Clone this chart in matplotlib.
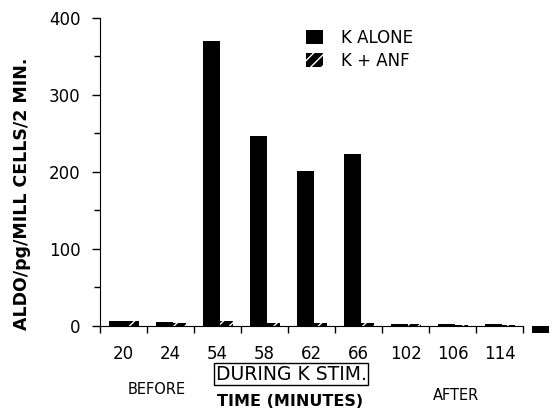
import matplotlib
matplotlib.use("Agg")
import matplotlib.pyplot as plt
import numpy as np

plt.rcParams['font.family'] = ['DejaVu Sans']

# time points (minutes); the last group has no label
times = ['20', '24', '54', '58', '62', '66', '102', '106', '114', '']
k_alone = [7, 5, 370, 247, 201, 223, 3, 2, 2, -9]
k_anf = [6, 4, 6, 4, 4, 4, 2, 1, 1, 0]

W, H = 559, 413
fig = plt.figure(figsize=(W / 100, H / 100), dpi=100)


def fx(px):
    return px / W


def fy(py):
    return 1 - py / H


# axes placed so that y=0 sits at ~326px and 400 at ~18px
ax = fig.add_axes([fx(100), fy(335.2), fx(555) - fx(100), fy(18) - fy(335.2)])

x = np.arange(len(times))
ax.bar(x - 0.31, k_alone, width=0.36, align='edge', color='black',
       linewidth=0, label='K ALONE')
ax.bar(x + 0.05, k_anf, width=0.27, align='edge', color='black',
       edgecolor='white', linewidth=0, hatch='///', label='K + ANF')

ax.set_xlim(-0.5, 9.18)
ax.set_ylim(-12, 400)

for s in ['top', 'right']:
    ax.spines[s].set_visible(False)
ax.spines['left'].set_bounds(0, 400)
ax.spines['bottom'].set_position(('data', 0))
ax.spines['bottom'].set_bounds(-0.5, 8.5)

ax.set_yticks([0, 100, 200, 300, 400])
ax.set_yticks([50, 150, 250, 350], minor=True)
ax.tick_params(axis='y', which='major', length=6, width=1, pad=8, labelsize=12)
ax.tick_params(axis='y', which='minor', length=4, width=1)

ax.set_xticks(x[:9])
ax.set_xticklabels(times[:9])
ax.set_xticks(np.arange(-0.5, 9, 1.0), minor=True)
ax.tick_params(axis='x', which='major', length=0, pad=14, labelsize=12)
ax.tick_params(axis='x', which='minor', length=5, width=1)

ax.legend(loc='upper left', bbox_to_anchor=(fx(306), fy(29)),
          bbox_transform=fig.transFigure, frameon=False, fontsize=12,
          handlelength=1.0, handleheight=0.9, handletextpad=1.1,
          labelspacing=0.3, borderaxespad=0, borderpad=0)

fig.text(fx(22), fy(194), 'ALDO/pg/MILL CELLS/2 MIN.', rotation=90,
         ha='center', va='center', fontsize=12.5, fontweight='bold')
fig.text(fx(291), fy(374), 'DURING K STIM.', ha='center', va='center',
         fontsize=13.5, bbox=dict(boxstyle='square,pad=0.1', fc='white',
                                  ec='black', lw=1))
fig.text(fx(157), fy(390), 'BEFORE', ha='center', va='center', fontsize=10.5)
fig.text(fx(290), fy(401), 'TIME (MINUTES)', ha='center', va='center',
         fontsize=11.5, fontweight='bold')
fig.text(fx(456), fy(395), 'AFTER', ha='center', va='center', fontsize=10.5)

fig.savefig('out.png', dpi=100)
